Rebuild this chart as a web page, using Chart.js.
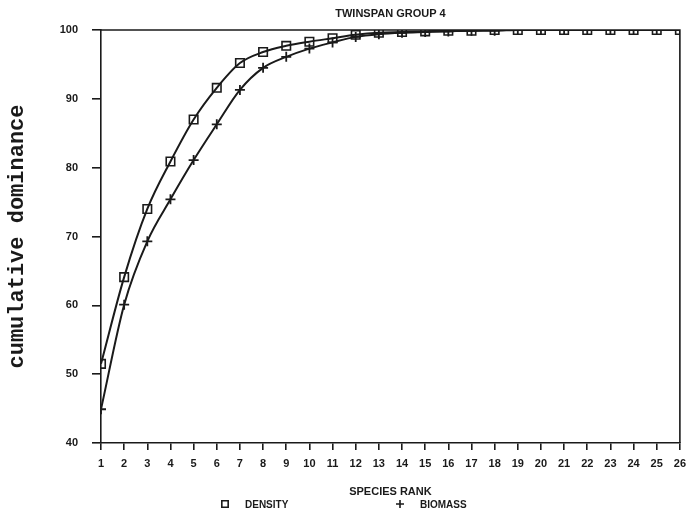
<!DOCTYPE html>
<html>
<head>
<meta charset="utf-8">
<script src="https://cdn.jsdelivr.net/npm/chart.js@4/dist/chart.umd.min.js"></script>
<style>
  html, body { margin: 0; padding: 0; background: #fff; }
</style>
</head>
<body>
<canvas id="myChart" width="693" height="517"></canvas>
<script>
// species rank 1..26
const ranks = [1, 2, 3, 4, 5, 6, 7, 8, 9, 10, 11, 12, 13, 14, 15, 16, 17, 18, 19, 20, 21, 22, 23, 24, 25, 26];
const density = [51.5, 64.1, 74.0, 80.9, 87.0, 91.6, 95.2, 96.8, 97.7, 98.3, 98.8, 99.3, 99.6, 99.7, 99.8, 99.9, 99.9, 100, 100, 100, 100, 100, 100, 100, 100, 100];
const biomass = [44.9, 60.1, 69.3, 75.4, 81.1, 86.3, 91.3, 94.5, 96.1, 97.3, 98.2, 99.0, 99.4, 99.6, 99.7, 99.8, 99.9, 99.9, 100, 100, 100, 100, 100, 100, 100, 100];
const seriesNames = ['DENSITY', 'BIOMASS'];
const titleText = 'TWINSPAN GROUP 4';
const xTitle = 'SPECIES RANK';
const yTitle = 'cumulative dominance';

const ink = '#1a1a1a';
const sans = '"Liberation Sans", Arial, sans-serif';

const toPoints = vals => vals.map((v, i) => ({ x: ranks[i], y: v }));

// box on top/right, plus title, x title and legend
const decor = {
  id: 'decor',
  afterDraw(chart) {
    const { ctx, chartArea: a } = chart;
    const mid = (a.left + a.right) / 2;
    ctx.save();
    ctx.strokeStyle = ink;
    ctx.lineWidth = 1.6;
    ctx.beginPath();
    ctx.moveTo(a.left, a.top);
    ctx.lineTo(a.right, a.top);
    ctx.lineTo(a.right, a.bottom);
    ctx.stroke();

    ctx.fillStyle = ink;
    ctx.textBaseline = 'middle';
    ctx.textAlign = 'center';
    ctx.font = 'bold 11px ' + sans;
    ctx.fillText(titleText, mid, 14);
    ctx.fillText(xTitle, mid, 492);

    ctx.textAlign = 'left';
    ctx.font = 'bold 10px ' + sans;
    ctx.fillText(seriesNames[0], 245, 505);
    ctx.fillText(seriesNames[1], 420, 505);
    ctx.fillStyle = 'rgba(0,0,0,0)';
    Chart.helpers.drawPoint(ctx, { pointStyle: 'rect', radius: 4.5, rotation: 0, borderWidth: 2 }, 225, 504);
    Chart.helpers.drawPoint(ctx, { pointStyle: 'cross', radius: 4, rotation: 0, borderWidth: 2 }, 400, 504);
    ctx.restore();
  }
};

const ctx = document.getElementById('myChart').getContext('2d');
const chart = new Chart(ctx, {
  type: 'line',
  data: {
    datasets: [
      {
        label: seriesNames[0],
        data: toPoints(density),
        borderColor: ink,
        borderWidth: 2,
        pointStyle: 'rect',
        pointRadius: 6,
        pointBorderWidth: 1.6,
        pointBorderColor: ink,
        pointBackgroundColor: 'rgba(0,0,0,0)',
        cubicInterpolationMode: 'monotone',
        fill: false
      },
      {
        label: seriesNames[1],
        data: toPoints(biomass),
        borderColor: ink,
        borderWidth: 2,
        pointStyle: 'cross',
        pointRadius: 5,
        pointBorderWidth: 1.8,
        pointBorderColor: ink,
        cubicInterpolationMode: 'monotone',
        fill: false
      }
    ]
  },
  options: {
    responsive: false,
    animation: false,
    layout: { padding: { top: 30, right: 9, left: 0, bottom: 0 } },
    plugins: {
      legend: { display: false },
      title: { display: false },
      tooltip: { enabled: false }
    },
    scales: {
      x: {
        type: 'linear',
        min: 1,
        max: 26,
        afterFit: s => { s.height = 74; },
        ticks: { stepSize: 1, color: ink, font: { family: sans, size: 11, weight: 'bold' }, padding: 7, maxRotation: 0, autoSkip: false },
        grid: { drawOnChartArea: false, tickLength: 7, color: ink, lineWidth: 1.6 },
        border: { color: ink, width: 1.6 }
      },
      y: {
        min: 40,
        max: 100,
        afterFit: s => { s.width = 101; },
        ticks: { stepSize: 10, color: ink, font: { family: sans, size: 11, weight: 'bold' }, padding: 14 },
        grid: { drawOnChartArea: false, tickLength: 9, color: ink, lineWidth: 1.6 },
        border: { color: ink, width: 1.6 },
        title: {
          display: true,
          text: yTitle,
          color: ink,
          font: { family: '"Liberation Mono", "Courier New", monospace', size: 22, weight: 'bold' },
          padding: { top: 4, bottom: 0 }
        }
      }
    }
  },
  plugins: [decor]
});
</script>
</body>
</html>
